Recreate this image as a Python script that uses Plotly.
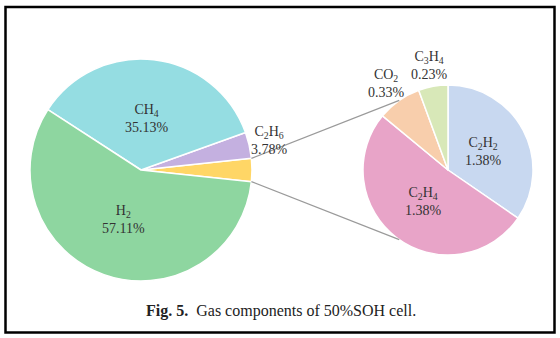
import math
import plotly.graph_objects as go

# ---------------- data ----------------
main_labels = ["Others", "C<sub>2</sub>H<sub>6</sub>", "CH<sub>4</sub>", "H<sub>2</sub>"]
main_values = [3.32, 3.78, 35.13, 57.11]          # % ("Others" = sum of the sub-pie gases)
main_colors = ["#ffd666", "#c4b0e0", "#95dde2", "#8ed6a0"]
main_show_label = [False, True, True, True]
main_label_outside = [False, True, False, False]

sub_labels = ["C<sub>2</sub>H<sub>2</sub>", "C<sub>2</sub>H<sub>4</sub>", "CO<sub>2</sub>", "C<sub>3</sub>H<sub>4</sub>"]
sub_pct = [1.38, 1.38, 0.33, 0.23]                # printed percentages
sub_slice_share = [34.6, 51.4, 8.4, 5.6]          # slice sizes as drawn in the picture
sub_colors = ["#c8d8f0", "#e8a4c8", "#f8ceac", "#d8e8b8"]
sub_label_outside = [False, False, True, True]

caption_bold = "Fig. 5."
caption_text = "Gas components of 50%SOH cell."

# ---------------- layout geometry (pixels) ----------------
W, H = 560, 338
main_c, main_r = (141, 170), 111
sub_c, sub_r = (448, 170), 85
connector_sub_angle = 125.0   # degrees (math) where connectors meet the sub pie
inside_frac = 0.47            # label radius (fraction of R) for inside labels
outside_gap = 21              # px beyond the rim for outside label centres


def px2paper(x, y):
    return x / W, 1 - y / H


def domain(c, r):
    return dict(x=[(c[0] - r) / W, (c[0] + r) / W], y=[1 - (c[1] + r) / H, 1 - (c[1] - r) / H])


FONT_FAMILY = "Liberation Serif, Times New Roman, serif"
font = dict(family=FONT_FAMILY, size=14, color="#333333")

main_total = sum(main_values)
sub_total = sum(sub_slice_share)
others_half_deg = main_values[0] / main_total * 180.0

fig = go.Figure()
fig.add_trace(go.Pie(
    labels=main_labels, values=main_values, textinfo="none",
    sort=False, direction="counterclockwise", rotation=90 - others_half_deg,
    marker=dict(colors=main_colors, line=dict(color="white", width=1.5)),
    domain=domain(main_c, main_r), showlegend=False, hoverinfo="label+percent",
))
fig.add_trace(go.Pie(
    labels=sub_labels, values=sub_slice_share, textinfo="none",
    sort=False, direction="clockwise", rotation=0,
    marker=dict(colors=sub_colors, line=dict(color="white", width=1.5)),
    domain=domain(sub_c, sub_r), showlegend=False, hoverinfo="label",
))

annotations = []


def add_label(c, r, ang_deg, text, outside):
    a = math.radians(ang_deg)
    d = r + outside_gap if outside else r * inside_frac
    x, y = px2paper(c[0] + d * math.cos(a), c[1] - d * math.sin(a))
    annotations.append(dict(text=text, x=x, y=y, xref="paper", yref="paper", showarrow=False,
                            xanchor="center", yanchor="middle", align="center", font=font))


# main pie: counterclockwise starting at -others_half (math degrees)
start = -others_half_deg
for lab, v, show, outside in zip(main_labels, main_values, main_show_label, main_label_outside):
    span = v / main_total * 360.0
    if show:
        add_label(main_c, main_r, start + span / 2, f"{lab}<br>{v:.2f}%", outside)
    start += span

# sub pie: clockwise from 12 o'clock
start = 90.0
for lab, share, pct, outside in zip(sub_labels, sub_slice_share, sub_pct, sub_label_outside):
    span = share / sub_total * 360.0
    add_label(sub_c, sub_r, start - span / 2, f"{lab}<br>{pct:.2f}%", outside)
    start -= span

shapes = []
for sgn in (1, -1):
    a1 = math.radians(sgn * others_half_deg)
    a2 = math.radians(sgn * connector_sub_angle)
    x0, y0 = px2paper(main_c[0] + main_r * math.cos(a1), main_c[1] - main_r * math.sin(a1))
    x1, y1 = px2paper(sub_c[0] + sub_r * math.cos(a2), sub_c[1] - sub_r * math.sin(a2))
    shapes.append(dict(type="line", xref="paper", yref="paper", x0=x0, y0=y0, x1=x1, y1=y1,
                       line=dict(color="#9a9a9a", width=1.2)))

bx0, by0 = px2paper(5.5, 332.5)
bx1, by1 = px2paper(554.5, 7)
shapes.append(dict(type="rect", xref="paper", yref="paper", x0=bx0, y0=by0, x1=bx1, y1=by1,
                   line=dict(color="black", width=2.5), fillcolor="rgba(0,0,0,0)"))

cx, cy = px2paper(281, 311)
annotations.append(dict(
    text=f"<b>{caption_bold}</b>  {caption_text}", x=cx, y=cy, xref="paper", yref="paper",
    showarrow=False, xanchor="center", yanchor="middle",
    font=dict(family=FONT_FAMILY, size=16, color="#222222"),
))

fig.update_layout(
    width=W, height=H, margin=dict(l=0, r=0, t=0, b=0),
    paper_bgcolor="white", plot_bgcolor="white",
    shapes=shapes, annotations=annotations,
)

fig.write_html("out.html")
